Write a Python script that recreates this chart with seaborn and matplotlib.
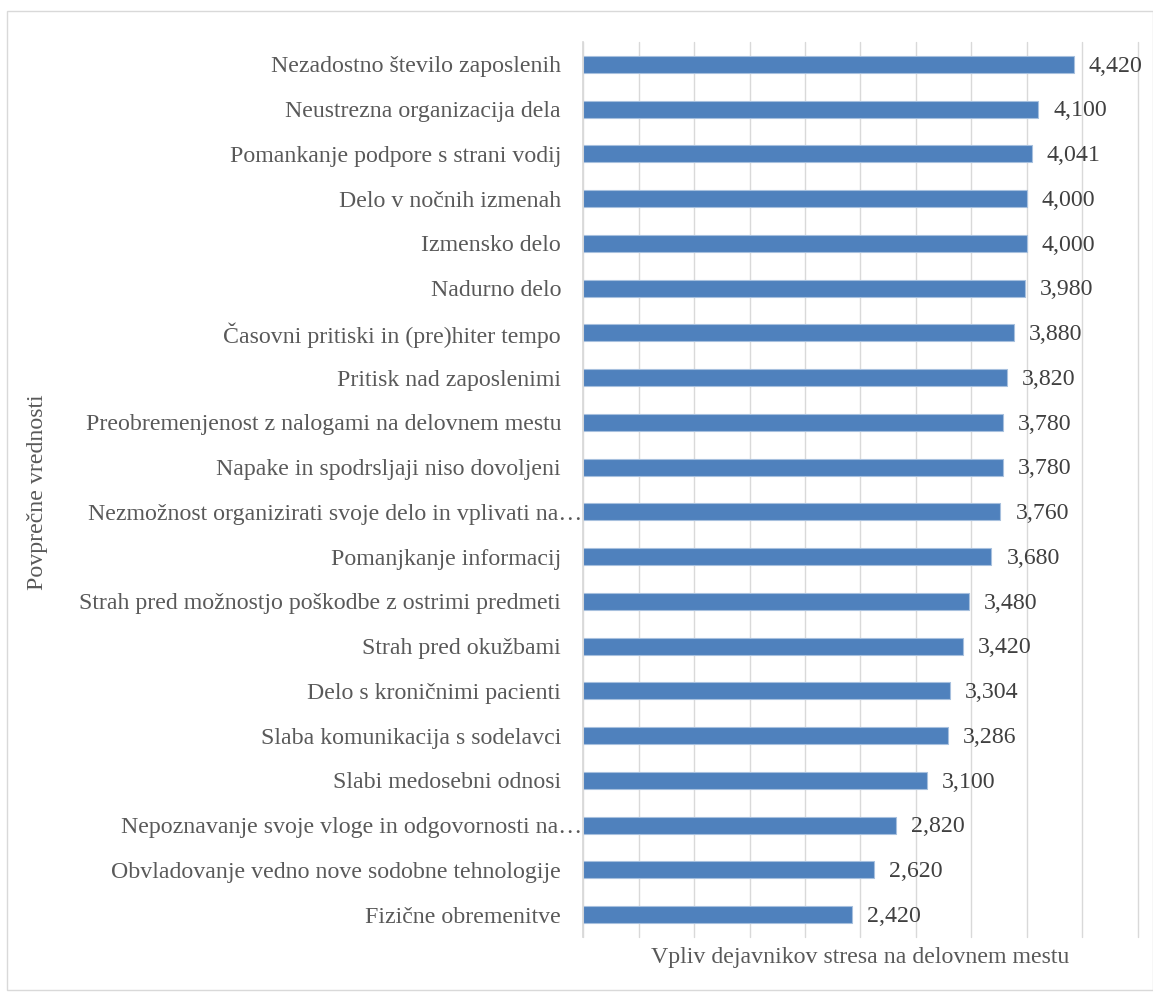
import matplotlib
matplotlib.use("Agg")
import matplotlib.pyplot as plt
import matplotlib.transforms as mtransforms
import seaborn as sns
import pandas as pd

categories = [
    "Nezadostno število zaposlenih",
    "Neustrezna organizacija dela",
    "Pomankanje podpore s strani vodij",
    "Delo v nočnih izmenah",
    "Izmensko delo",
    "Nadurno delo",
    "Časovni pritiski in (pre)hiter tempo",
    "Pritisk nad zaposlenimi",
    "Preobremenjenost z nalogami na delovnem mestu",
    "Napake in spodrsljaji niso dovoljeni",
    "Nezmožnost organizirati svoje delo in vplivati na…",
    "Pomanjkanje informacij",
    "Strah pred možnostjo poškodbe z ostrimi predmeti",
    "Strah pred okužbami",
    "Delo s kroničnimi pacienti",
    "Slaba komunikacija s sodelavci",
    "Slabi medosebni odnosi",
    "Nepoznavanje svoje vloge in odgovornosti na…",
    "Obvladovanje vedno nove sodobne tehnologije",
    "Fizične obremenitve",
]
values = [4.420, 4.100, 4.041, 4.000, 4.000, 3.980, 3.880, 3.820, 3.780, 3.780,
          3.760, 3.680, 3.480, 3.420, 3.304, 3.286, 3.100, 2.820, 2.620, 2.420]
value_labels = ["4,420", "4,100", "4,041", "4,000", "4,000", "3,980", "3,880", "3,820",
                "3,780", "3,780", "3,760", "3,680", "3,480", "3,420", "3,304", "3,286",
                "3,100", "2,820", "2,620", "2,420"]
xlabel = "Vpliv dejavnikov stresa na delovnem mestu"
ylabel = "Povprečne vrednosti"

df = pd.DataFrame({"cat": categories, "val": values})

sns.set_theme(style="white")
plt.rcParams["font.family"] = ["Liberation Serif", "DejaVu Serif"]
text_color = "#595959"
fs = 17.2

fig = plt.figure(figsize=(11.53, 9.94), dpi=100)
ax = fig.add_axes([583 / 1153, 1 - 937 / 994, (1138 - 583) / 1153, (937 - 42) / 994])

sns.barplot(data=df, x="val", y="cat", color="#4F81BD", saturation=1, width=0.38,
            edgecolor="#A7C0DE", linewidth=0.8, ax=ax, orient="h")

ax.set_xlim(0, 5)
ax.set_ylim(len(categories) - 0.5, -0.5)
ax.set_xticks([i * 0.5 for i in range(11)])
ax.set_xticklabels([])
ax.tick_params(axis="x", length=0)
ax.tick_params(axis="y", length=0, labelsize=fs, labelcolor=text_color, pad=15.8)
ax.grid(axis="x", color="#D9D9D9", linewidth=1)
for gl in ax.get_xgridlines():
    gl.set_clip_on(False)
ax.set_axisbelow(True)
for s in ["top", "right", "bottom"]:
    ax.spines[s].set_visible(False)
ax.spines["left"].set_color("#D9D9D9")

# truncated labels (with ellipsis) run right up to the axis, as in the original
shift = mtransforms.ScaledTranslation(21 / 100, 0, fig.dpi_scale_trans)
for lbl in ax.get_yticklabels():
    if lbl.get_text().endswith("…"):
        lbl.set_transform(lbl.get_transform() + shift)

for i, (v, lab) in enumerate(zip(values, value_labels)):
    ax.text(v + 0.135, i + 0.04, lab, va="center", ha="left", fontsize=fs, color="#404040")

ax.set_xlabel(xlabel, fontsize=fs, color=text_color, labelpad=4)
ax.set_ylabel("")
fig.text(38 / 1153, 1 - 492 / 994, ylabel, rotation=90, ha="center", va="center",
         fontsize=fs, color=text_color)

fig.patches.append(plt.Rectangle((7 / 1153, 1 - 990 / 994), (1153 - 7) / 1153, (990 - 11) / 994,
                                 transform=fig.transFigure, fill=False,
                                 edgecolor="#D9D9D9", linewidth=1))

fig.savefig("out.png", dpi=100)
